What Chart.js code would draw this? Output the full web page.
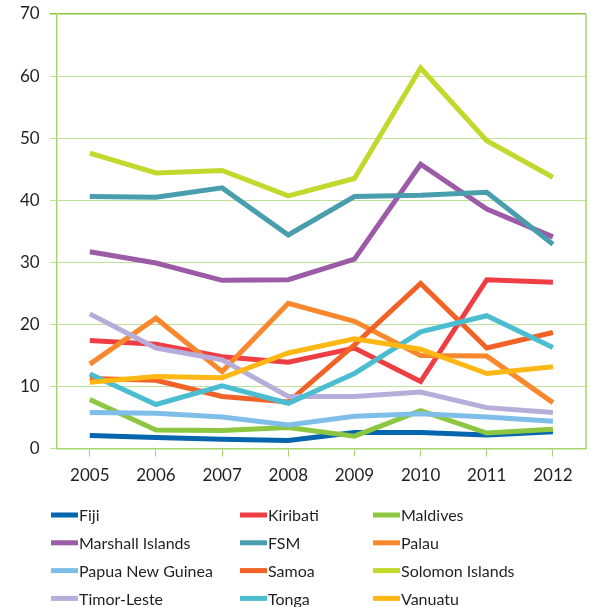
<!DOCTYPE html>
<html>
<head>
<meta charset="utf-8">
<script src="https://cdn.jsdelivr.net/npm/chart.js@4/dist/chart.umd.min.js"></script>
<style>
  html, body { margin: 0; padding: 0; background: #fff; }
</style>
</head>
<body>
<canvas id="lineGraph" width="592" height="607"></canvas>
<script>
// Years on the x axis
const years = ['2005', '2006', '2007', '2008', '2009', '2010', '2011', '2012']
const yTicks = [0, 10, 20, 30, 40, 50, 60, 70]

const fiji      = [2.1, 1.8, 1.5, 1.3, 2.6, 2.6, 2.2, 2.7]
const kiribati  = [17.4, 16.8, 14.8, 13.9, 16.2, 10.8, 27.2, 26.8]
const maldives  = [7.9, 3.0, 2.9, 3.4, 2.0, 6.1, 2.5, 3.1]
const marshall  = [31.7, 29.9, 27.1, 27.2, 30.5, 45.8, 38.6, 34.1]
const fsm       = [40.6, 40.5, 42.0, 34.4, 40.6, 40.8, 41.3, 32.9]
const palau     = [13.6, 21.0, 12.4, 23.4, 20.5, 15.0, 14.9, 7.4]
const png       = [5.8, 5.7, 5.1, 3.8, 5.2, 5.6, 5.1, 4.4]
const samoa     = [11.3, 11.0, 8.4, 7.5, 16.7, 26.6, 16.2, 18.7]
const solomon   = [47.6, 44.4, 44.8, 40.7, 43.5, 61.3, 49.6, 43.7]
const timor     = [21.7, 16.2, 14.3, 8.4, 8.4, 9.1, 6.6, 5.8]
const tonga     = [12.0, 7.1, 10.1, 7.3, 12.1, 18.8, 21.4, 16.3]
const vanuatu   = [10.7, 11.6, 11.4, 15.4, 17.7, 16.0, 12.1, 13.2]

const series = [
    ['Fiji', fiji, '#0565ae'],
    ['Kiribati', kiribati, '#ee3e44'],
    ['Maldives', maldives, '#8dc641'],
    ['Marshall Islands', marshall, '#9b5ba6'],
    ['FSM', fsm, '#489ead'],
    ['Palau', palau, '#f7882d'],
    ['Papua New Guinea', png, '#7fbee9'],
    ['Samoa', samoa, '#f26226'],
    ['Solomon Islands', solomon, '#c3d82d'],
    ['Timor-Leste', timor, '#b6addb'],
    ['Tonga', tonga, '#4bbdd1'],
    ['Vanuatu', vanuatu, '#fdb815']
]

const textColor = '#231f20'
const fontName = 'Lato'

/* legend drawn as a 3 column grid under the plot */
const gridLegend = {
    id: 'gridLegend',
    afterDraw(chart) {
        const c = chart.ctx
        const cols = [51, 240, 373]
        c.save()
        c.font = '16px ' + fontName
        c.textBaseline = 'middle'
        chart.data.datasets.forEach((ds, i) => {
            const x = cols[i % 3]
            const y = 515 + Math.floor(i / 3) * 27.8
            c.fillStyle = ds.borderColor
            c.fillRect(x, y - 2.5, 27, 5)
            c.fillStyle = textColor
            c.fillText(ds.label, x + 28, y + 1)
        })
        c.restore()
    }
}

/* right edge of the plot frame */
const frame = {
    id: 'frame',
    beforeDatasetsDraw(chart) {
        const { ctx, chartArea } = chart
        ctx.save()
        ctx.strokeStyle = '#a8d46f'
        ctx.lineWidth = 1.5
        ctx.beginPath()
        ctx.moveTo(chartArea.right, chartArea.top)
        ctx.lineTo(chartArea.right, chartArea.bottom)
        ctx.stroke()
        ctx.restore()
    }
}

let ctx = document.querySelector('#lineGraph').getContext('2d')

let dados = {
    labels: years,
    datasets: series.map(([label, data, color], i) => ({
        label: label,
        data: data,
        borderColor: color,
        backgroundColor: color,
        borderWidth: 5,
        pointRadius: 0,
        tension: 0,
        order: -i
    }))
}

let opcoes = {
    responsive: false,
    animation: false,
    layout: { padding: { top: 14, right: 6, left: 10, bottom: 112 } },
    plugins: {
        legend: { display: false },
        tooltip: { enabled: false }
    },
    scales: {
        x: {
            offset: true,
            grid: { drawOnChartArea: false, offset: false, tickLength: 8, color: '#a8d46f' },
            border: { color: '#a8d46f', width: 1.5 },
            ticks: { color: textColor, font: { family: fontName, size: 17 }, padding: 9, maxRotation: 0 }
        },
        y: {
            min: 0,
            max: 70,
            afterBuildTicks: axis => { axis.ticks = yTicks.map(v => ({ value: v })) },
            // let the top label hang over the frame instead of pushing it down
            afterFit: axis => { axis.paddingTop = 0; axis.paddingBottom = 0 },
            grid: {
                tickLength: 7,
                color: c => c.tick && c.tick.value === 70 ? '#8cc63f' : '#bde397',
                lineWidth: c => c.tick && c.tick.value === 70 ? 1.5 : 1
            },
            border: { color: '#a8d46f', width: 1.5 },
            ticks: { color: textColor, font: { family: fontName, size: 17 }, padding: 10 }
        }
    }
}

let lineChart = new Chart(ctx, {
    type: 'line',
    data: dados,
    options: opcoes,
    plugins: [frame, gridLegend]
})
</script>
</body>
</html>
